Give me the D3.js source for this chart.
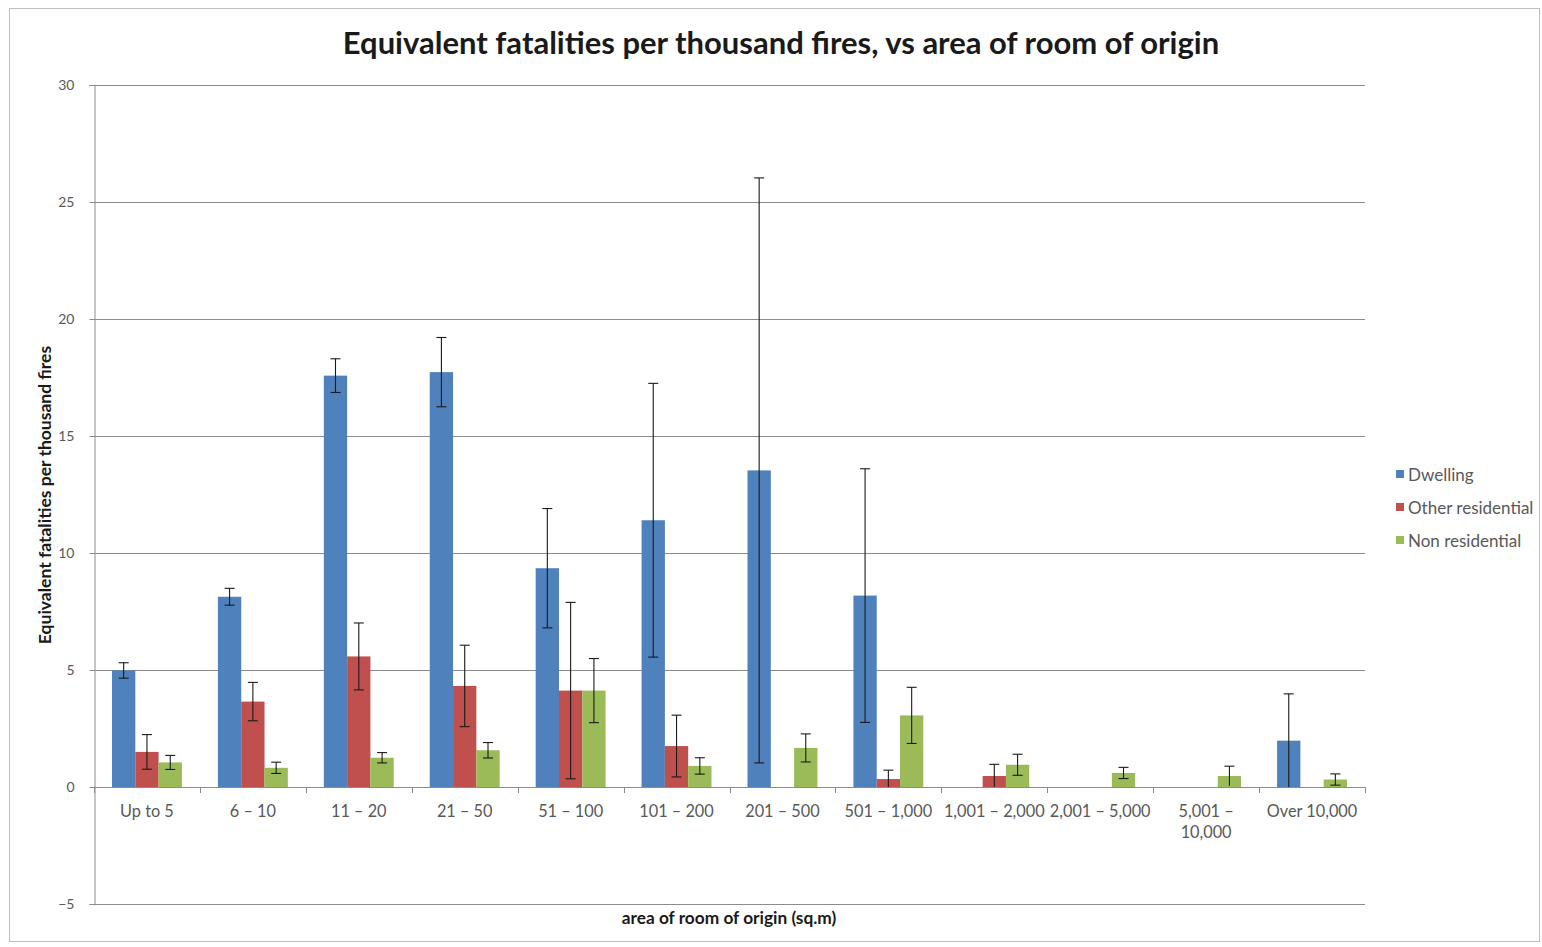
<!DOCTYPE html>
<html>
<head>
<meta charset="utf-8">
<script src="https://cdn.jsdelivr.net/npm/d3@7"></script>
<style>
  html, body { margin: 0; padding: 0; background: #fff; }
  svg { display: block; font-family: Lato, "Open Sans", sans-serif; }
</style>
</head>
<body>
<svg id="chart" width="1542" height="947"></svg>
<script>
// ---- data ----
const categories = ["Up to 5", "6 – 10", "11 – 20", "21 – 50", "51 – 100", "101 – 200",
  "201 – 500", "501 – 1,000", "1,001 – 2,000", "2,001 – 5,000", "5,001 – 10,000", "Over 10,000"];
const seriesNames = ["Dwelling", "Other residential", "Non residential"];
const dwelling    = [4.98, 8.13, 17.58, 17.73, 9.35, 11.4, 13.53, 8.18, null, null, null, 1.98];
const dwellingErr = [0.33, 0.36, 0.72, 1.48, 2.55, 5.85, 12.5, 5.42, null, null, null, 2.0];
const otherRes    = [1.5, 3.65, 5.58, 4.32, 4.12, 1.75, null, 0.34, 0.47, null, null, null];
const otherResErr = [0.74, 0.82, 1.43, 1.74, 3.77, 1.32, null, 0.38, 0.5, null, null, null];
const nonRes      = [1.05, 0.82, 1.25, 1.57, 4.12, 0.9, 1.67, 3.06, 0.95, 0.6, 0.47, 0.32];
const nonResErr   = [0.3, 0.24, 0.22, 0.33, 1.37, 0.35, 0.6, 1.2, 0.45, 0.24, 0.42, 0.24];
const yTicks = [-5, 0, 5, 10, 15, 20, 25, 30];
const colors = ["#4F81BD", "#C0504D", "#9BBB59"];

const title = "Equivalent fatalities per thousand fires, vs area of room of origin";
const xTitle = "area of room of origin (sq.m)";
const yTitle = "Equivalent fatalities per thousand fires";

// ---- layout ----
const svg = d3.select("#chart");
const plot = { left: 94, right: 1365, top: 85, bottom: 904 };

svg.append("rect").attr("x", 9.5).attr("y", 8.5).attr("width", 1530).attr("height", 933)
  .attr("fill", "#fff").attr("stroke", "#bfbfbf").attr("stroke-width", 1);

const x0 = d3.scaleBand().domain(categories).range([plot.left, plot.right]).paddingInner(0).paddingOuter(0);
const barW = 23.3;
const x1 = d3.scaleBand().domain(seriesNames).range([0, barW * 3]);
const y = d3.scaleLinear().domain([-5, 30]).range([plot.bottom, plot.top]);

// gridlines
svg.append("g").selectAll("line").data(yTicks).join("line")
  .attr("x1", plot.left).attr("x2", plot.right)
  .attr("y1", d => Math.round(y(d)) + 0.5).attr("y2", d => Math.round(y(d)) + 0.5)
  .attr("stroke", "#8c8c8c").attr("stroke-width", 1);

// y axis
const yAxis = d3.axisLeft(y).tickValues(yTicks).tickSize(5).tickPadding(15);
const gy = svg.append("g").attr("transform", `translate(${plot.left + 0.5},0)`).call(yAxis);
gy.select(".domain").attr("stroke", "#8c8c8c");
gy.selectAll(".tick line").attr("stroke", "#8c8c8c");
gy.selectAll(".tick text").attr("fill", "#595959").attr("font-size", 14).attr("font-family", "Lato, sans-serif");

// bars
const series = [
  { name: seriesNames[0], vals: dwelling, errs: dwellingErr, color: colors[0] },
  { name: seriesNames[1], vals: otherRes, errs: otherResErr, color: colors[1] },
  { name: seriesNames[2], vals: nonRes, errs: nonResErr, color: colors[2] }
];
const barData = [];
series.forEach(s => categories.forEach((c, i) => {
  if (s.vals[i] != null) barData.push({ cat: c, name: s.name, v: s.vals[i], e: s.errs[i], color: s.color });
}));
const groupOffset = (x0.bandwidth() - barW * 3) / 2;
const bx = d => x0(d.cat) + groupOffset + x1(d.name);

svg.append("g").selectAll("rect").data(barData).join("rect")
  .attr("x", bx).attr("width", barW)
  .attr("y", d => y(d.v)).attr("height", d => y(0) - y(d.v))
  .attr("fill", d => d.color);

// x axis line + ticks at category boundaries
const gx = svg.append("g");
gx.append("line").attr("x1", plot.left).attr("x2", plot.right)
  .attr("y1", Math.round(y(0)) + 0.5).attr("y2", Math.round(y(0)) + 0.5)
  .attr("stroke", "#8c8c8c");
const boundaries = categories.map(c => x0(c)).concat([x0.range()[1]]);
gx.selectAll("line.tk").data(boundaries).join("line").attr("class", "tk")
  .attr("x1", d => Math.round(d) + 0.5).attr("x2", d => Math.round(d) + 0.5)
  .attr("y1", Math.round(y(0))).attr("y2", Math.round(y(0)) + 6)
  .attr("stroke", "#8c8c8c");

// error bars
const eg = svg.append("g").attr("stroke", "#1a1a1a").attr("stroke-width", 1.1);
barData.filter(d => d.e != null).forEach(d => {
  const cx = bx(d) + barW / 2;
  const lo = Math.max(d.v - d.e, 0);
  const hi = d.v + d.e;
  eg.append("line").attr("x1", cx).attr("x2", cx).attr("y1", y(hi)).attr("y2", y(lo));
  eg.append("line").attr("x1", cx - 5).attr("x2", cx + 5).attr("y1", y(hi)).attr("y2", y(hi));
  if (d.v - d.e > 0.05)
    eg.append("line").attr("x1", cx - 5).attr("x2", cx + 5).attr("y1", y(lo)).attr("y2", y(lo));
});

// category labels (wrapped when wider than band)
const lab = svg.append("g").attr("font-size", 16.3).attr("fill", "#595959").attr("text-anchor", "middle");
categories.forEach(c => {
  const cx = x0(c) + x0.bandwidth() / 2;
  const t = lab.append("text").attr("x", cx).attr("y", y(0) + 30).text(c);
  if (t.node().getComputedTextLength() > x0.bandwidth() + 1) {
    const parts = c.split(" – ");
    t.text(null);
    t.append("tspan").attr("x", cx).attr("dy", 0).text(parts[0] + " –");
    t.append("tspan").attr("x", cx).attr("dy", 21).text(parts[1]);
  }
});

// titles
svg.append("text").attr("x", 781).attr("y", 54).attr("text-anchor", "middle")
  .attr("font-size", 31).attr("font-weight", "bold").attr("fill", "#1a1a1a").text(title);
svg.append("text").attr("x", 729).attr("y", 924).attr("text-anchor", "middle")
  .attr("font-size", 17.3).attr("font-weight", "bold").attr("fill", "#1a1a1a").text(xTitle);
svg.append("text").attr("transform", "translate(51,495) rotate(-90)").attr("text-anchor", "middle")
  .attr("font-size", 17.5).attr("font-weight", "bold").attr("fill", "#1a1a1a").text(yTitle);

// legend
const lg = svg.append("g").attr("transform", "translate(1396,475)");
seriesNames.forEach((n, i) => {
  const g = lg.append("g").attr("transform", `translate(0,${i * 33})`);
  g.append("rect").attr("x", 0).attr("y", -5).attr("width", 8).attr("height", 8).attr("fill", colors[i]);
  g.append("text").attr("x", 12).attr("y", 5.5).attr("font-size", 17).attr("fill", "#595959").text(n);
});
</script>
</body>
</html>
